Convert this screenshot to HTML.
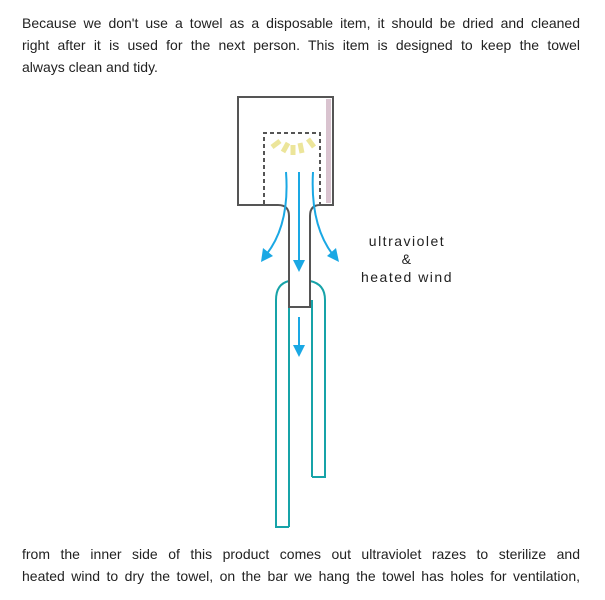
<!DOCTYPE html>
<html><head><meta charset="utf-8"><style>
html,body{margin:0;padding:0;background:#fff;width:605px;height:600px;overflow:hidden;position:relative}
.t{position:absolute;left:22px;width:558px;font-family:"Liberation Sans",sans-serif;font-size:14px;color:#222;line-height:22px}
.j{text-align:justify;text-align-last:justify;white-space:nowrap}
.j span{display:block;text-align:justify;text-align-last:justify;white-space:normal}
.lab{position:absolute;left:350px;width:114px;text-align:center;font-family:"Liberation Sans",sans-serif;font-size:14px;letter-spacing:1.5px;color:#222;line-height:18px;top:232px}
</style></head><body>
<div class="t" style="top:12px">
<div class="j"><span>Because we don't use a towel as a disposable item, it should be dried and cleaned</span></div>
<div class="j"><span>right after it is used for the next person. This item is designed to keep the towel</span></div>
<div>always clean and tidy.</div>
</div>
<div class="t" style="top:543px">
<div class="j"><span>from the inner side of this product comes out ultraviolet razes to sterilize and</span></div>
<div class="j"><span>heated wind to dry the towel, on the bar we hang the towel has holes for ventilation,</span></div>
</div>
<div class="lab">ultraviolet<br>&amp;<br>heated wind</div>
<svg width="605" height="600" style="position:absolute;left:0;top:0">
<rect x="326" y="99" width="5" height="104" fill="#d9c3cf"/>
<g fill="none" stroke="#17a3a8" stroke-width="2">
<path d="M289 527 V300 M289 281 Q276 284 276 300 V527 H289"/>
<path d="M312 477 V300 M310 281 Q325 284 325 300 V477 H312"/>
</g>
<path d="M289 307 V216 Q289 205 278 205 H238 V97 H333 V205 H320 Q310 205 310 216 V307 Z" fill="none" stroke="#555" stroke-width="2"/>
<line x1="289" y1="307" x2="310" y2="307" stroke="#555" stroke-width="2"/>
<path d="M264 204 V133 H320 V204" fill="none" stroke="#555" stroke-width="2" stroke-dasharray="4,3"/>
<g stroke="#ece59a" stroke-width="5">
<line x1="272" y1="147" x2="280" y2="141"/>
<line x1="283" y1="152" x2="288" y2="143"/>
<line x1="293" y1="155" x2="293" y2="145"/>
<line x1="302" y1="153" x2="300" y2="143"/>
<line x1="314" y1="147" x2="308" y2="139"/>
</g>
<g stroke="#1aa8e4" stroke-width="2" fill="none">
<path d="M286 172 Q290 225 266 255"/>
<line x1="299" y1="172" x2="299" y2="262"/>
<path d="M313 172 Q310 225 333 255"/>
<line x1="299" y1="317" x2="299" y2="347"/>
</g>
<g fill="#1aa8e4">
<polygon points="261,262 263,248 273,256"/>
<polygon points="293,260 305,260 299,272"/>
<polygon points="339,262 327,256 336,248"/>
<polygon points="293,345 305,345 299,357"/>
</g>
</svg>
</body></html>
